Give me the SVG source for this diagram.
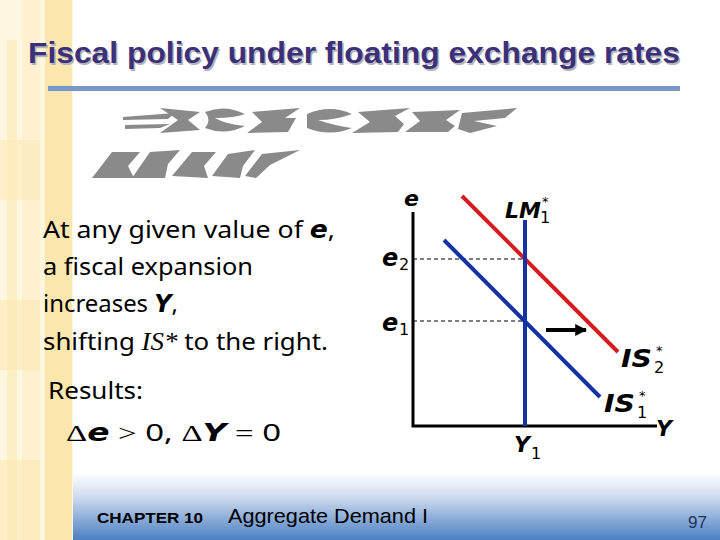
<svg xmlns="http://www.w3.org/2000/svg" width="720" height="540" viewBox="0 0 720 540">
<defs>
<linearGradient id="foot" x1="0" y1="0" x2="0" y2="1">
<stop offset="0" stop-color="#ffffff"/>
<stop offset="0.35" stop-color="#d2ddef"/>
<stop offset="1" stop-color="#4a7fc2"/>
</linearGradient>
<marker id="ah" viewBox="0 0 10 10" refX="9" refY="5" markerWidth="3" markerHeight="3" orient="auto" markerUnits="strokeWidth">
<path d="M0,0 L10,5 L0,10 z" fill="#000"/>
</marker>
<style>
.title{font-family:"Liberation Sans",Arial,sans-serif;font-weight:bold;font-size:30px}
.body{font-family:"Noto Sans","DejaVu Sans",sans-serif;font-size:24px;fill:#000}
.bi{font-family:"DejaVu Sans",Verdana,sans-serif;font-weight:bold;font-style:italic}
.sub{font-family:"DejaVu Sans",Verdana,sans-serif;font-size:16px}
.ser{font-family:"Liberation Serif","Times New Roman",serif}
.ast{font-family:"DejaVu Sans",Verdana,sans-serif;font-size:13px}
.axis{stroke:#000;stroke-width:3;fill:none}
.dash{stroke:#000;stroke-width:1.2;stroke-dasharray:4,3;fill:none}
.garb{fill:#8a8a8a}
</style>
</defs>
<rect width="720" height="540" fill="#ffffff"/>
<g id="left-stripes">
<rect x="0" y="0" width="73" height="540" fill="#fef7e0"/>
<rect x="7" y="40" width="10" height="500" fill="#fcecbd" opacity="0.8"/>
<rect x="22" y="0" width="18" height="540" fill="#fdf1cf"/>
<rect x="45" y="0" width="27" height="540" fill="#fbe6ad"/>
<rect x="0" y="140" width="40" height="60" fill="#fceabb" opacity="0.6"/>
<rect x="0" y="300" width="40" height="70" fill="#fce7b2" opacity="0.6"/>
<rect x="0" y="460" width="40" height="80" fill="#fce7b2" opacity="0.6"/>
</g>
<g id="footer">
<rect x="73" y="472" width="647" height="68" fill="url(#foot)"/>
<text x="97" y="523" font-family="Liberation Sans,Arial,sans-serif" font-weight="bold" font-size="15" textLength="106" lengthAdjust="spacingAndGlyphs" fill="#000">CHAPTER 10</text>
<text x="228" y="523" font-family="Liberation Sans,Arial,sans-serif" font-size="21" textLength="200" lengthAdjust="spacingAndGlyphs" fill="#000">Aggregate Demand I</text>
<text x="688" y="528" font-family="Liberation Sans,Arial,sans-serif" font-size="16" textLength="19" lengthAdjust="spacingAndGlyphs" fill="#1d3560">97</text>
</g>
<g id="title">
<text class="title" x="29.5" y="64.5" fill="#b4b4bc" textLength="652" lengthAdjust="spacingAndGlyphs">Fiscal policy under floating exchange rates</text>
<text class="title" x="28" y="63" fill="#3c3179" textLength="652" lengthAdjust="spacingAndGlyphs">Fiscal policy under floating exchange rates</text>
<rect x="48" y="86" width="632" height="5" fill="#7898cc"/>
</g>
<g id="garbled" class="garb">
<path d="M123,117 L175,113 L168,119 L123,120 z"/>
<path d="M125,125 L170,124 L160,128 L125,129 z"/>
<path d="M160,108 L200,112 L188,120 L200,130 L160,133 L178,120 z"/>
<path d="M205,112 Q225,104 245,114 Q235,118 215,118 Q225,124 245,126 Q225,136 205,128 Q212,120 205,112 z"/>
<path d="M252,112 L300,108 L285,118 L296,118 L288,132 L247,133 L262,122 z"/>
<path d="M307,114 Q330,104 352,114 Q336,120 318,120 Q336,126 352,128 Q330,137 307,128 z"/>
<path d="M358,112 L410,108 L395,116 L404,124 L398,132 L352,133 L370,122 z"/>
<path d="M412,112 L460,110 L446,120 L455,126 L448,132 L405,132 L420,121 z"/>
<path d="M462,113 L517,108 L505,118 L474,121 L497,126 L470,133 L458,129 z"/>
<path d="M92,178 L112,152 L140,152 L128,166 L134,178 z"/>
<path d="M132,178 L150,152 L180,150 L168,164 L165,178 z"/>
<path d="M172,176 L192,152 L216,152 L204,166 L208,178 z"/>
<path d="M212,176 L228,154 L255,150 L243,166 L240,178 z"/>
<path d="M245,176 L262,154 L300,150 L270,165 L256,178 z"/>
</g>
<g id="text-block">
<text class="body" x="43" y="238" textLength="292" lengthAdjust="spacingAndGlyphs">At any given value of <tspan class="bi">e</tspan>,</text>
<text class="body" x="43" y="275" textLength="210" lengthAdjust="spacingAndGlyphs">a fiscal expansion</text>
<text class="body" x="43" y="312" textLength="135" lengthAdjust="spacingAndGlyphs">increases  <tspan class="bi">Y</tspan>,</text>
<text class="body" x="43" y="350" textLength="285" lengthAdjust="spacingAndGlyphs">shifting <tspan class="ser" font-style="italic" font-size="25">IS*</tspan> to the right.</text>
<text class="body" x="48" y="399" textLength="95" lengthAdjust="spacingAndGlyphs">Results:</text>
<text class="body" x="66" y="441" textLength="215" lengthAdjust="spacingAndGlyphs"><tspan class="ser">Δ</tspan><tspan class="bi">e</tspan> <tspan class="ser">&gt;</tspan> 0,  <tspan class="ser">Δ</tspan><tspan class="bi">Y</tspan> <tspan class="ser">=</tspan> 0</text>
</g>
<g id="connectors">
<path class="axis" d="M413,212 V426 H657"/>
<path class="dash" d="M413,259 H525"/>
<path class="dash" d="M413,321 H525"/>
<line x1="462" y1="196" x2="618" y2="352" stroke="#d41e1e" stroke-width="4"/>
<line x1="444" y1="240" x2="600" y2="397" stroke="#1432a4" stroke-width="4"/>
<line x1="525" y1="220" x2="525" y2="426" stroke="#1432a4" stroke-width="4"/>
<line x1="546" y1="330" x2="586" y2="330" stroke="#000" stroke-width="4" marker-end="url(#ah)"/>
</g>
<g id="axis-e"><text class="bi" x="404" y="206" font-size="22">e</text></g>
<g id="axis-Y"><text class="bi" x="656" y="436" font-size="22">Y</text></g>
<g id="label-LM1"><text class="bi" x="505" y="218" font-size="22">LM</text><text class="sub" x="540" y="223">1</text><text class="ast" x="542" y="206">*</text></g>
<g id="label-e2"><text class="bi" x="382" y="266" font-size="24">e</text><text class="sub" x="399" y="270" font-size="17">2</text></g>
<g id="label-e1"><text class="bi" x="382" y="331" font-size="24">e</text><text class="sub" x="399" y="335" font-size="17">1</text></g>
<g id="label-IS2"><text class="bi" x="621" y="367" font-size="25" textLength="31" lengthAdjust="spacingAndGlyphs">IS</text><text class="sub" x="654" y="373">2</text><text class="ast" x="656" y="355">*</text></g>
<g id="label-IS1"><text class="bi" x="604" y="412" font-size="25" textLength="31" lengthAdjust="spacingAndGlyphs">IS</text><text class="sub" x="637" y="418">1</text><text class="ast" x="639" y="400">*</text></g>
<g id="label-Y1"><text class="bi" x="514" y="452" font-size="22">Y</text><text class="sub" x="531" y="459">1</text></g>
</svg>
